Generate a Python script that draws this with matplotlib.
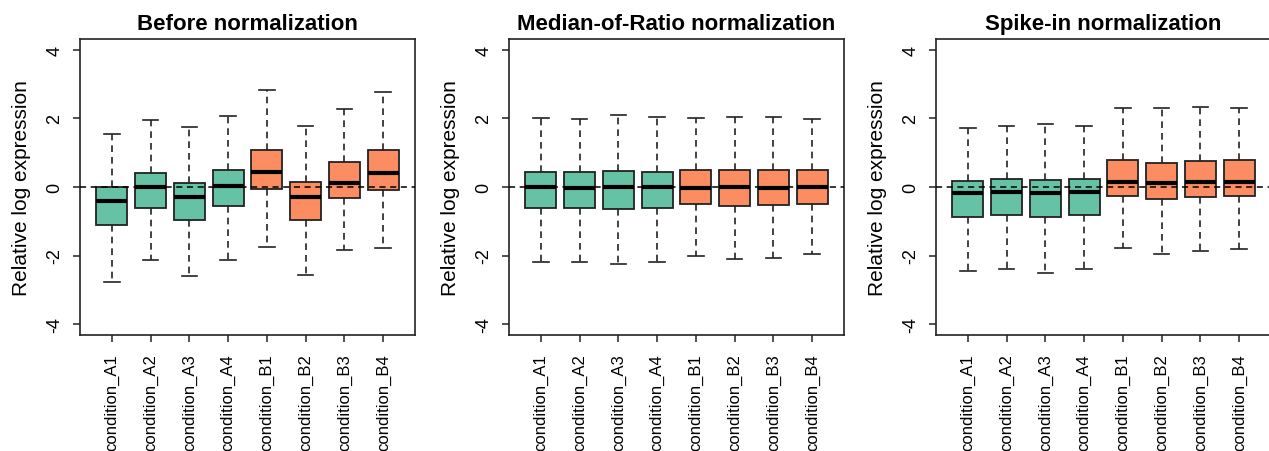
import matplotlib
matplotlib.use('Agg')
import matplotlib.pyplot as plt

plt.rcParams['font.family'] = ['Liberation Sans', 'DejaVu Sans']

# sample names and groups
samples = ['condition_A1', 'condition_A2', 'condition_A3', 'condition_A4',
           'condition_B1', 'condition_B2', 'condition_B3', 'condition_B4']
groups = ['A', 'A', 'A', 'A', 'B', 'B', 'B', 'B']
group_colors = {'A': '#66C2A5', 'B': '#FC8D62'}

titles = ['Before normalization', 'Median-of-Ratio normalization', 'Spike-in normalization']

# box statistics: lower whisker, Q1, median, Q3, upper whisker
before_low = [-2.76, -2.14, -2.60, -2.14, -1.75, -2.58, -1.85, -1.78]
before_q1 = [-1.12, -0.60, -0.97, -0.56, -0.05, -0.95, -0.31, -0.08]
before_med = [-0.42, -0.01, -0.28, 0.03, 0.45, -0.30, 0.13, 0.41]
before_q3 = [0.00, 0.42, 0.11, 0.49, 1.09, 0.15, 0.74, 1.07]
before_high = [1.56, 1.97, 1.74, 2.07, 2.82, 1.79, 2.29, 2.77]

mor_low = [-2.18, -2.20, -2.25, -2.20, -2.01, -2.10, -2.06, -1.97]
mor_q1 = [-0.60, -0.60, -0.63, -0.61, -0.50, -0.55, -0.53, -0.50]
mor_med = [0.00, -0.02, 0.00, 0.00, -0.02, 0.00, -0.03, 0.00]
mor_q3 = [0.45, 0.44, 0.46, 0.45, 0.50, 0.49, 0.50, 0.50]
mor_high = [2.02, 1.99, 2.09, 2.03, 2.02, 2.04, 2.04, 1.99]

spike_low = [-2.44, -2.38, -2.50, -2.40, -1.79, -1.97, -1.86, -1.82]
spike_q1 = [-0.87, -0.82, -0.87, -0.83, -0.25, -0.36, -0.29, -0.27]
spike_med = [-0.18, -0.16, -0.18, -0.16, 0.14, 0.11, 0.15, 0.14]
spike_q3 = [0.17, 0.22, 0.21, 0.23, 0.78, 0.71, 0.76, 0.78]
spike_high = [1.73, 1.78, 1.83, 1.77, 2.31, 2.31, 2.33, 2.31]

panels = [
    (before_low, before_q1, before_med, before_q3, before_high),
    (mor_low, mor_q1, mor_med, mor_q3, mor_high),
    (spike_low, spike_q1, spike_med, spike_q3, spike_high),
]

W, H = 1269, 452
fig = plt.figure(figsize=(W / 100, H / 100), dpi=100)

lefts = [80, 509, 936]
ax_w, ax_top, ax_bottom = 335, 40, 336
edge = '#222222'

for left, title, (lo, q1, med, q3, hi) in zip(lefts, titles, panels):
    ax = fig.add_axes([left / W, (H - ax_bottom) / H, ax_w / W, (ax_bottom - ax_top) / H])
    stats = []
    for i in range(len(samples)):
        stats.append({'whislo': lo[i], 'q1': q1[i], 'med': med[i], 'q3': q3[i],
                      'whishi': hi[i], 'fliers': [], 'label': samples[i]})
    bp = ax.bxp(stats, positions=range(1, 9), widths=0.8, capwidths=0.4,
                patch_artist=True, showfliers=False,
                boxprops=dict(edgecolor=edge, linewidth=1.3),
                medianprops=dict(color='black', linewidth=3),
                whiskerprops=dict(color=edge, linewidth=1.2, linestyle=(0, (4, 3))),
                capprops=dict(color=edge, linewidth=1.2))
    for patch, g in zip(bp['boxes'], groups):
        patch.set_facecolor(group_colors[g])
        patch.set_zorder(2)
    for m in bp['medians']:
        m.set_zorder(3)
    # zero line on top of the boxes, like abline in R
    ax.axhline(0, color='black', lw=1.1, ls=(0, (4, 3)), zorder=4)

    ax.set_xlim(0.18, 8.82)
    ax.set_ylim(-4.32, 4.32)
    ax.set_yticks([-4, -2, 0, 2, 4])
    ax.set_yticklabels(['-4', '-2', '0', '2', '4'], rotation=90, va='center')
    ax.set_xticks(range(1, 9))
    ax.set_xticklabels(samples, rotation=90)
    ax.tick_params(axis='both', length=5, width=1.1, color=edge)
    ax.tick_params(axis='y', pad=7, labelsize=13)
    ax.tick_params(axis='x', pad=8, labelsize=12)
    ax.set_ylabel('Relative log expression', fontsize=15, labelpad=11)
    ax.set_title(title, fontsize=16, fontweight='bold', pad=7)
    for s in ax.spines.values():
        s.set_linewidth(1.2)
        s.set_color(edge)

fig.savefig('out.png', dpi=100)
